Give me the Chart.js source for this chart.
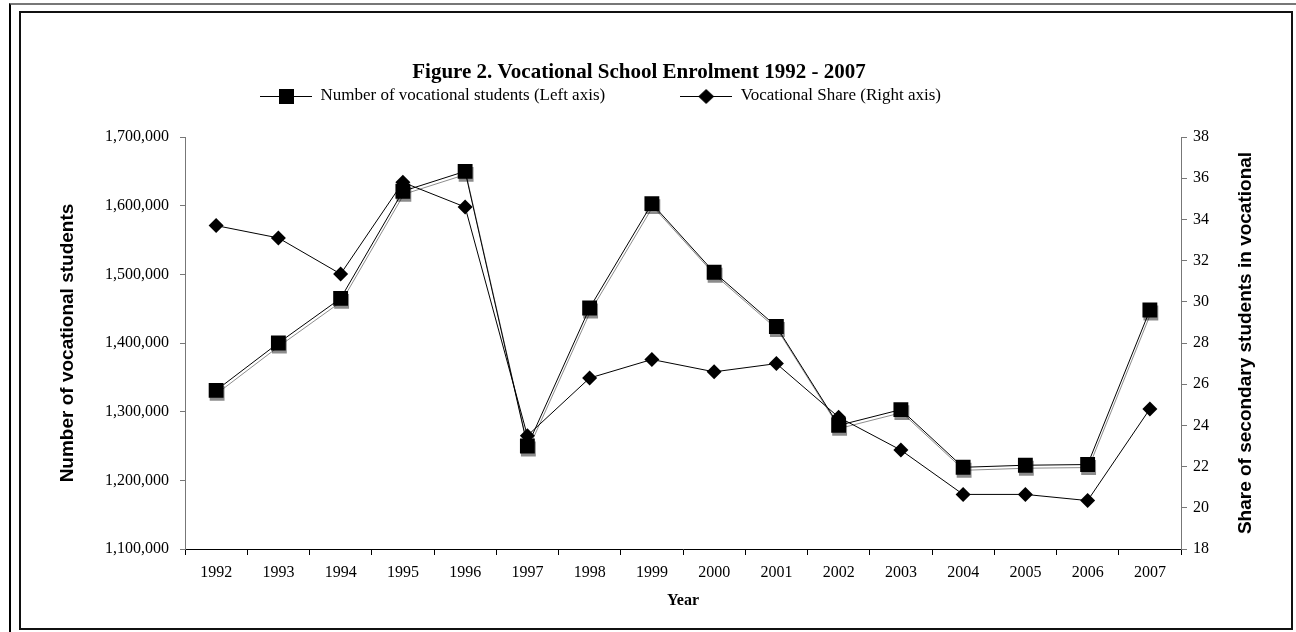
<!DOCTYPE html>
<html>
<head>
<meta charset="utf-8">
<title>Figure 2. Vocational School Enrolment 1992 - 2007</title>
<script src="https://cdn.jsdelivr.net/npm/chart.js@4.4.1/dist/chart.umd.min.js"></script>
<style>
  html, body { margin: 0; padding: 0; background: #fff; }
  #wrap { position: relative; width: 1296px; height: 632px; overflow: hidden; }
  #outer { position: absolute; left: 9px; top: 3px; right: -10px; bottom: -10px;
           border-left: 2px solid #000; border-top: 2px solid #777; }
  #frame { position: absolute; left: 19px; top: 11px; width: 1274px; height: 619px;
           box-sizing: border-box; border: 2px solid #111; }
  canvas { position: absolute; left: 0; top: 0; }
</style>
</head>
<body>
<div id="wrap">
  <div id="outer"></div>
  <div id="frame"></div>
  <canvas id="myChart" width="1296" height="632"></canvas>
</div>
<script>
const years = ['1992', '1993', '1994', '1995', '1996', '1997', '1998', '1999',
               '2000', '2001', '2002', '2003', '2004', '2005', '2006', '2007'];
// number of vocational students (left axis)
const students = [1331000, 1400000, 1465000, 1621000, 1650000, 1250000, 1451000, 1603000,
                  1503000, 1424000, 1280000, 1303000, 1219000, 1222000, 1223000, 1448000];
// vocational share of secondary students, % (right axis)
const share = [33.7, 33.1, 31.35, 35.8, 34.6, 23.5, 26.3, 27.2,
               26.6, 27.0, 24.4, 22.8, 20.65, 20.65, 20.35, 24.8];
const leftRange = [1100000, 1700000, 100000];
const rightRange = [18, 38, 2];
const rightTitle = 'Share of secondary students in vocational';

const serif = '"Liberation Serif", "Times New Roman", serif';
const sans = '"Liberation Sans", Arial, sans-serif';

Chart.defaults.font.family = serif;
Chart.defaults.color = '#000';

// little line + marker swatches for the legend
function legendIcon(style) {
	const c = document.createElement('canvas');
	c.width = 52;
	c.height = 18;
	const g = c.getContext('2d');
	g.strokeStyle = '#000';
	g.lineWidth = 1;
	g.beginPath();
	g.moveTo(0, 9.5);
	g.lineTo(52, 9.5);
	g.stroke();
	g.fillStyle = '#000';
	g.beginPath();
	if (style === 'rect') {
		g.rect(19, 2, 15, 15);
	} else {
		g.moveTo(18, 9.5);
		g.lineTo(26, 2);
		g.lineTo(34, 9.5);
		g.lineTo(26, 17);
		g.closePath();
	}
	g.fill();
	return c;
}
const icons = [legendIcon('rect'), legendIcon('diamond')];

// grey drop shadow under the student series, like the original
const shadowPlugin = {
	id: 'seriesShadow',
	beforeDatasetDraw(chart, args) {
		if (args.index !== 0) return;
		const c = chart.ctx;
		c.save();
		c.shadowColor = 'rgba(0,0,0,0.45)';
		c.shadowOffsetX = 1;
		c.shadowOffsetY = 3;
		c.shadowBlur = 0;
	},
	afterDatasetDraw(chart, args) {
		if (args.index === 0) chart.ctx.restore();
	}
};

// right axis title reads bottom to top in the original
const rightTitlePlugin = {
	id: 'rightTitle',
	afterDraw(chart) {
		const s = chart.scales.y1;
		const c = chart.ctx;
		c.save();
		c.font = 'bold 19px ' + sans;
		c.fillStyle = '#000';
		c.textAlign = 'center';
		c.textBaseline = 'middle';
		c.translate(s.right - 12, (s.top + s.bottom) / 2);
		c.rotate(-Math.PI / 2);
		c.fillText(rightTitle, 0, 0);
		c.restore();
	}
};

new Chart(document.getElementById('myChart'), {
	type: 'line',
	data: {
		labels: years,
		datasets: [
			{
				label: 'Number of vocational students (Left axis)',
				data: students,
				xAxisID: 'x',
				yAxisID: 'y',
				borderColor: '#000',
				backgroundColor: '#000',
				borderWidth: 1,
				pointStyle: 'rect',
				pointRadius: 10.5,
				pointBorderWidth: 0,
				order: 1
			},
			{
				label: 'Vocational Share (Right axis)',
				data: share,
				xAxisID: 'x',
				yAxisID: 'y1',
				borderColor: '#000',
				backgroundColor: '#000',
				borderWidth: 1,
				pointStyle: 'rectRot',
				pointRadius: 7.5,
				pointBorderWidth: 0,
				order: 0
			}
		]
	},
	options: {
		responsive: false,
		animation: false,
		events: [],
		layout: { padding: { left: 20, right: 38, top: 12, bottom: 12 } },
		plugins: {
			title: {
				display: true,
				text: 'Figure 2. Vocational School Enrolment 1992 - 2007',
				font: { family: serif, size: 21, weight: 'bold' },
				color: '#000',
				padding: { top: 48, bottom: -72.7 }
			},
			legend: {
				position: 'top',
				align: 'start',
				fullSize: false,
				labels: {
					usePointStyle: true,
					pointStyleWidth: 52,
					padding: 75,
					font: { family: serif, size: 17 },
					color: '#000',
					sort: (a, b) => a.datasetIndex - b.datasetIndex,
					generateLabels(chart) {
						const items = Chart.defaults.plugins.legend.labels.generateLabels(chart);
						items.forEach(it => { it.pointStyle = icons[it.datasetIndex]; });
						return items;
					}
				}
			},
			tooltip: { enabled: false }
		},
		scales: {
			x: {
				offset: true,
				grid: { offset: true, drawOnChartArea: false, tickLength: 6, color: '#000' },
				border: { color: '#000', width: 1 },
				ticks: { padding: 8, maxRotation: 0, autoSkip: false, font: { family: serif, size: 16 } },
				title: {
					display: true,
					text: 'Year',
					font: { family: serif, size: 16, weight: 'bold' },
					padding: { top: 0, bottom: 10 }
				},
				afterFit: s => { s.height = 71; }
			},
			gap: {
				type: 'category',
				position: 'top',
				grid: { display: false },
				border: { display: false },
				ticks: { display: false },
				afterFit: s => { s.height = 22.5; }
			},
			y: {
				position: 'left',
				min: leftRange[0],
				max: leftRange[1],
				grid: { drawOnChartArea: false, tickLength: 5, color: '#777' },
				border: { color: '#777', width: 1 },
				ticks: {
					stepSize: leftRange[2],
					padding: 11,
					font: { family: serif, size: 16 },
					callback: v => v.toLocaleString('en-US')
				},
				title: {
					display: true,
					text: 'Number of vocational students',
					font: { family: sans, size: 19, weight: 'bold' },
					padding: { top: 36.6, bottom: 0 }
				},
				afterFit: s => { s.width = 165; }
			},
			y1: {
				position: 'right',
				min: rightRange[0],
				max: rightRange[1],
				grid: { drawOnChartArea: false, tickLength: 6, color: '#777' },
				border: { color: '#777', width: 1 },
				ticks: {
					stepSize: rightRange[2],
					padding: 6,
					font: { family: serif, size: 16 }
				},
				afterFit: s => { s.width = 77; }
			}
		}
	},
	plugins: [shadowPlugin, rightTitlePlugin]
});
</script>
</body>
</html>
